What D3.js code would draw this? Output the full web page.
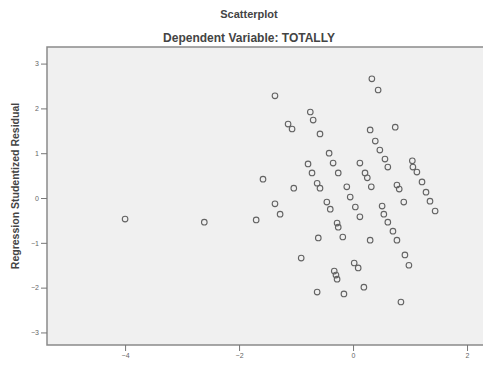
<!DOCTYPE html>
<html>
<head>
<meta charset="utf-8">
<script src="https://cdn.jsdelivr.net/npm/d3@7"></script>
<style>
  html, body { margin: 0; padding: 0; background: #ffffff; }
  svg { display: block; }
</style>
</head>
<body>
<svg id="chart" width="483" height="365"></svg>
<script>
// ---- Data ----
const predictedX = [
  -4.00, -2.61, -1.70, -1.37, -1.58, -1.37, -1.28, -1.14, -1.07, -1.04,
  -0.91, -0.75, -0.70, -0.79, -0.72, -0.63, -0.58, -0.61, -0.63, -0.58,
  -0.42, -0.35, -0.26, -0.46, -0.40, -0.28, -0.26, -0.18, -0.33, -0.30,
  -0.28, -0.16, -0.11, -0.05, 0.04, 0.12, 0.02, 0.09, 0.19, 0.12,
  0.21, 0.25, 0.32, 0.30, 0.33, 0.44, 0.30, 0.39, 0.47, 0.56,
  0.61, 0.74, 0.51, 0.54, 0.61, 0.70, 0.77, 0.77, 0.81, 0.89,
  0.91, 0.98, 0.84, 1.04, 1.05, 1.12, 1.21, 1.28, 1.35, 1.44
];
const studentizedResidual = [
  -0.47, -0.54, -0.49, 2.28, 0.42, -0.13, -0.36, 1.65, 1.54, 0.22,
  -1.34, 1.92, 1.74, 0.76, 0.56, 0.33, 0.22, -0.89, -2.10, 1.43,
  1.00, 0.78, 0.56, -0.09, -0.25, -0.56, -0.65, -0.87, -1.63, -1.72,
  -1.81, -2.14, 0.25, 0.02, -0.20, -0.42, -1.45, -1.56, -1.99, 0.78,
  0.56, 0.45, 0.25, -0.94, 2.66, 2.41, 1.52, 1.27, 1.07, 0.87,
  0.69, 1.58, -0.18, -0.36, -0.54, -0.74, -0.94, 0.29, 0.20, -0.09,
  -1.27, -1.50, -2.32, 0.83, 0.69, 0.58, 0.36, 0.13, -0.07, -0.29
];
const xTicks = [-4, -2, 0, 2];
const yTicks = [-3, -2, -1, 0, 1, 2, 3];
const titleText = "Scatterplot";
const subtitleText = "Dependent Variable: TOTALLY";
const yLabelText = "Regression Studentized Residual";

// ---- Layout ----
const svg = d3.select("#chart");
const plot = { left: 47, top: 47, right: 486, bottom: 345 };

const x = d3.scaleLinear().domain([-5.37, 2.28]).range([plot.left, 483]);
const y = d3.scaleLinear().domain([-3.28, 3.37]).range([plot.bottom, plot.top]);

// plot background
svg.append("rect")
  .attr("x", plot.left).attr("y", plot.top)
  .attr("width", plot.right - plot.left).attr("height", plot.bottom - plot.top)
  .attr("fill", "#f0f0f0")
  .attr("stroke", "#8a8a8a")
  .attr("stroke-width", 1.5);

// titles
svg.append("text")
  .attr("x", 249).attr("y", 18)
  .attr("text-anchor", "middle")
  .attr("font-family", "Liberation Sans, Arial, sans-serif")
  .attr("font-weight", "bold")
  .attr("font-size", "11px")
  .attr("fill", "#444")
  .text(titleText);

svg.append("text")
  .attr("x", 249).attr("y", 42)
  .attr("text-anchor", "middle")
  .attr("font-family", "Liberation Sans, Arial, sans-serif")
  .attr("font-weight", "bold")
  .attr("font-size", "12px")
  .attr("fill", "#444")
  .text(subtitleText);

// y label
svg.append("text")
  .attr("transform", "translate(19,186) rotate(-90)")
  .attr("text-anchor", "middle")
  .attr("font-family", "Liberation Sans, Arial, sans-serif")
  .attr("font-weight", "bold")
  .attr("font-size", "10.5px")
  .attr("fill", "#444")
  .text(yLabelText);

// axes
const yAxis = d3.axisLeft(y).tickValues(yTicks).tickSize(6).tickPadding(2).tickFormat(d3.format("d"));
const gy = svg.append("g").attr("transform", `translate(${plot.left},0)`).call(yAxis);
gy.select(".domain").remove();
gy.selectAll("line").attr("stroke", "#777");
gy.selectAll("text").attr("font-size", "7px").attr("fill", "#666")
  .attr("font-family", "Liberation Sans, Arial, sans-serif");

const xAxis = d3.axisBottom(x).tickValues(xTicks).tickSize(6).tickPadding(2).tickFormat(d3.format("d"));
const gx = svg.append("g").attr("transform", `translate(0,${plot.bottom})`).call(xAxis);
gx.select(".domain").remove();
gx.selectAll("line").attr("stroke", "#777");
gx.selectAll("text").attr("font-size", "7px").attr("fill", "#666")
  .attr("font-family", "Liberation Sans, Arial, sans-serif");

// points
const pts = predictedX.map((v, i) => ({ x: v, y: studentizedResidual[i] }));
svg.append("g").selectAll("circle").data(pts).join("circle")
  .attr("cx", d => x(d.x))
  .attr("cy", d => y(d.y))
  .attr("r", 2.8)
  .attr("fill", "none")
  .attr("stroke", "#636363")
  .attr("stroke-width", 1.1);
</script>
</body>
</html>
